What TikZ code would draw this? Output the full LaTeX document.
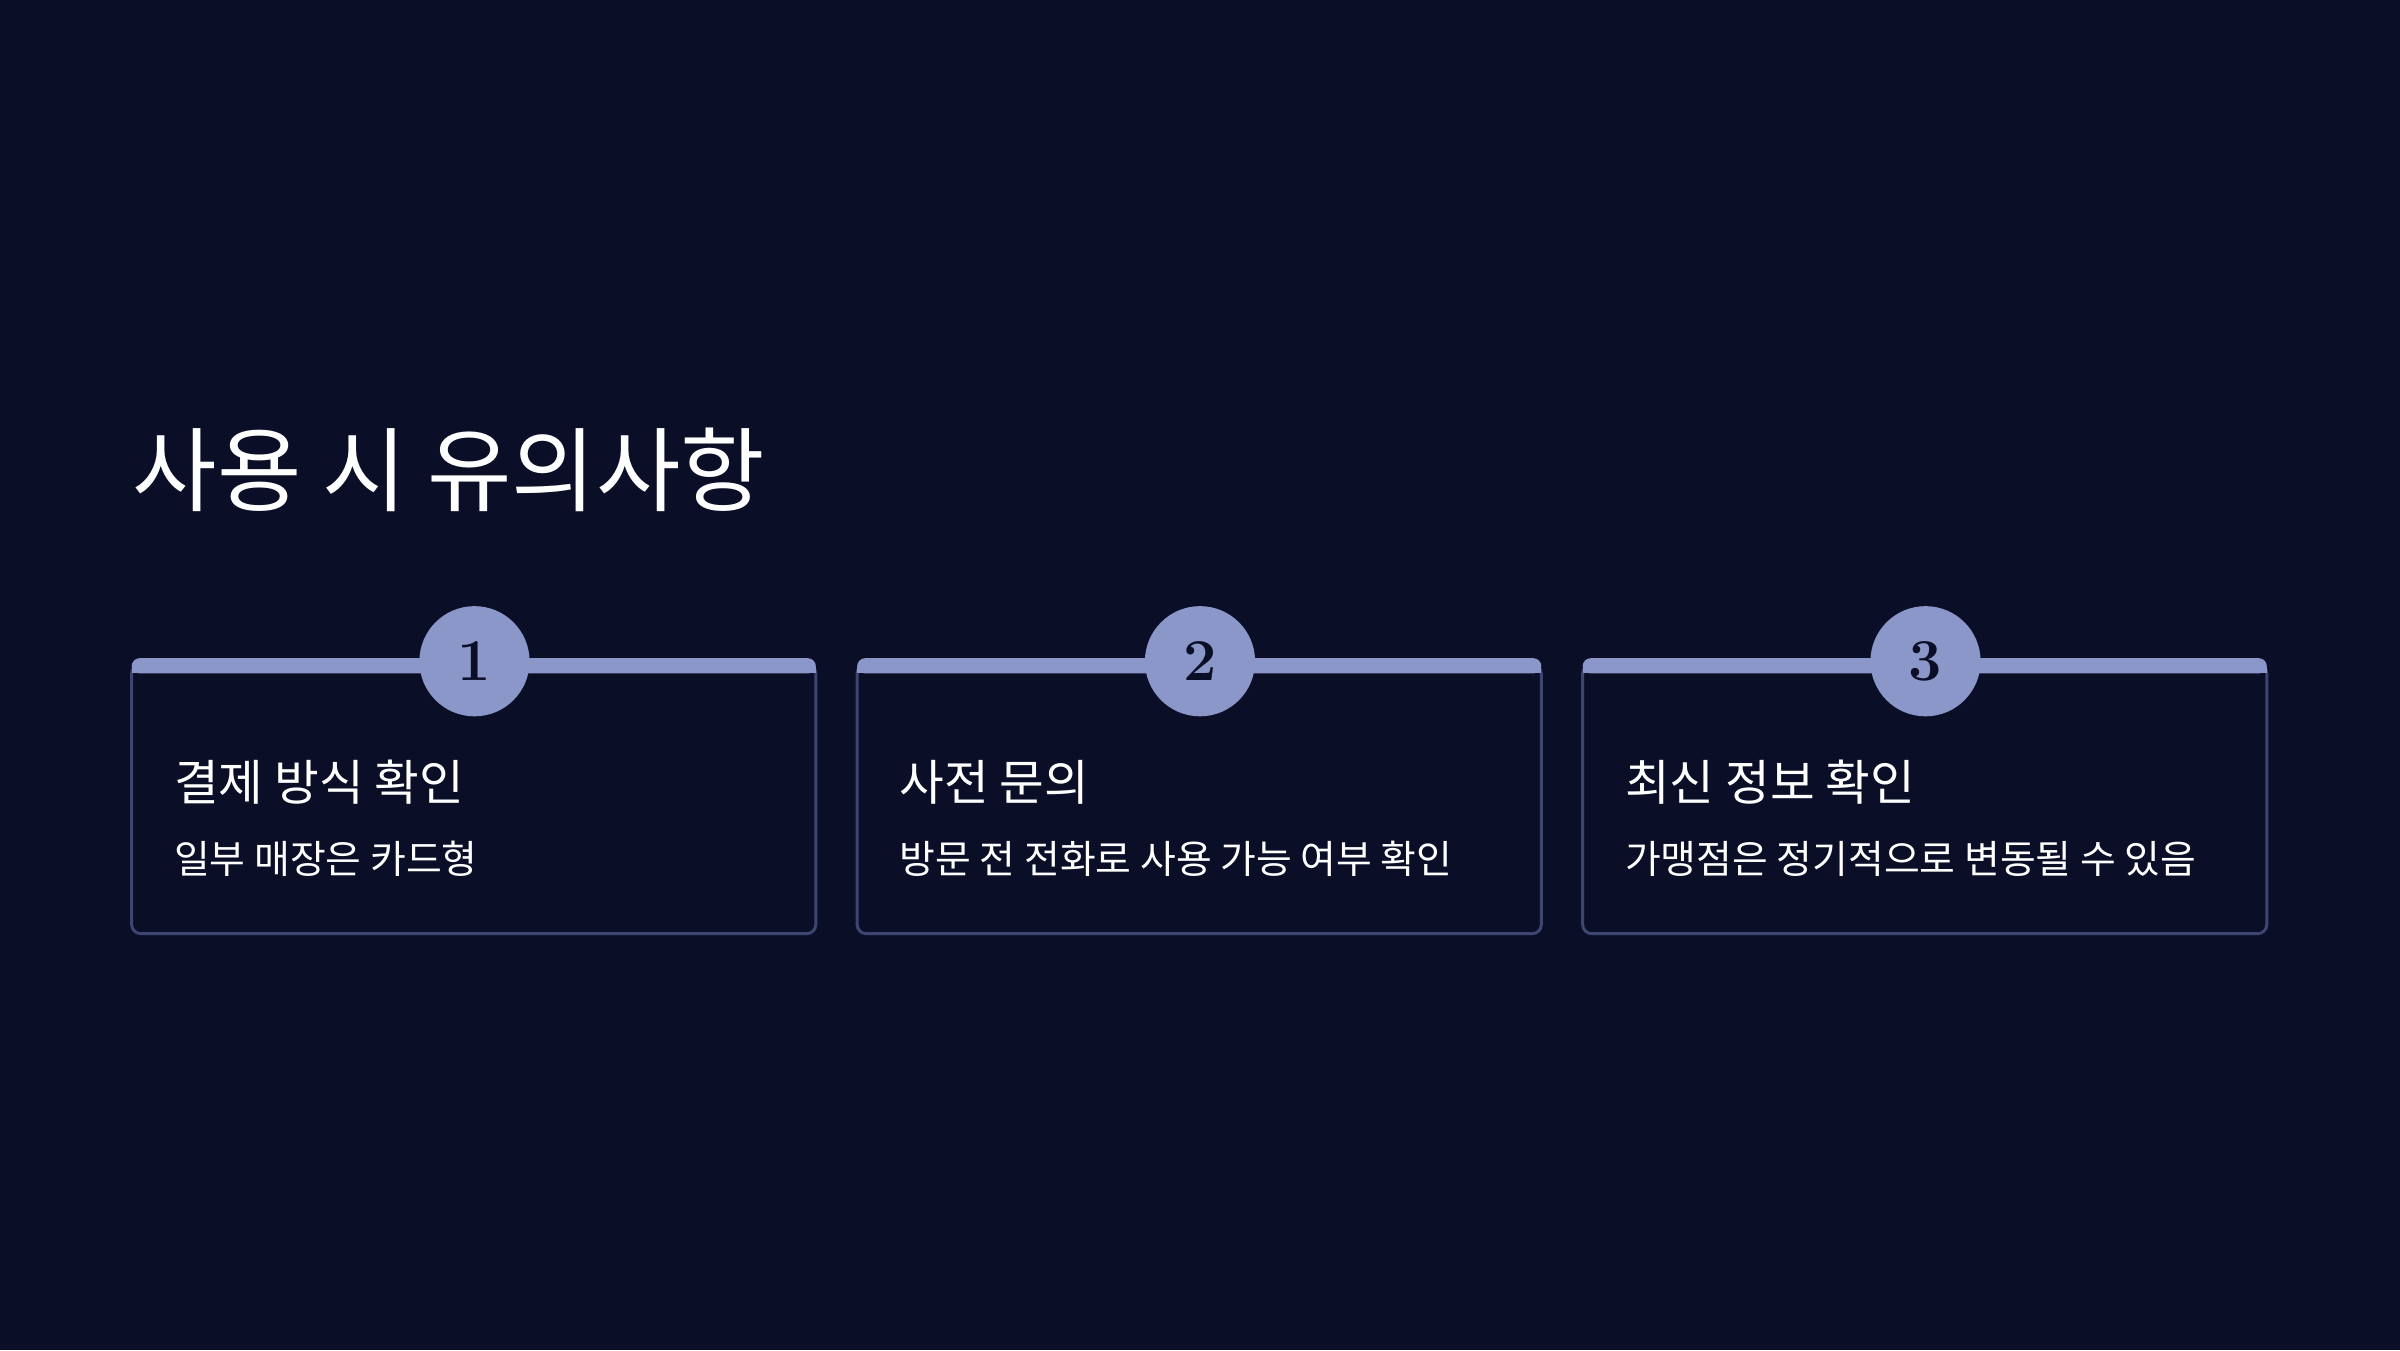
\documentclass[tikz,border=0pt]{standalone}
\usepackage{fontspec}
\newfontfamily\kr{Noto Sans CJK KR}
\definecolor{bg}{HTML}{0A0E27}
\definecolor{acc}{HTML}{8A97C8}
\definecolor{bord}{HTML}{3D4670}
\tikzset{
 card/.style={draw=bord,line width=0.55pt,rounded corners=1.7pt},
 topbar/.style={fill=acc,rounded corners=1.5pt},
 numcirc/.style={circle,fill=acc,minimum size=72*0.2835pt,inner sep=0pt,font=\bfseries\fontsize{11}{11}\selectfont,text=bg},
 head/.style={anchor=west,text=white,font=\kr\fontsize{9}{10}\selectfont,inner sep=0pt},
 desc/.style={anchor=west,text=white,font=\kr\fontsize{7.2}{9}\selectfont,inner sep=0pt},
}
\begin{document}
\begin{tikzpicture}[x=0.2835pt,y=-0.2835pt]
\fill[bg] (0,0) rectangle (1568,882);
\useasboundingbox (0,0) rectangle (1568,882);
\node[anchor=west,text=white,font=\kr\fontsize{17}{20}\selectfont,inner sep=0pt] (title) at (86,307) {사용 시 유의사항};
\foreach \i/\x/\h/\d in {1/86/결제 방식 확인/일부 매장은 카드형/모바일만 취급,
  2/560/사전 문의/방문 전 전화로 사용 가능 여부 확인,
  3/1034/최신 정보 확인/가맹점은 정기적으로 변동될 수 있음}{
  \draw[card] (\x,434) rectangle ++(447,176);
  \path[topbar] (\x,430) rectangle ++(447,10);
  \fill[acc] (\x,436) rectangle ++(447,4);
  \node[numcirc] (n\i) at (\x+224,432) {\i};
  \node[head] (h\i) at (\x+27,511) {\h};
  \node[desc] (d\i) at (\x+27,561) {\d};
}
\end{tikzpicture}
\end{document}
